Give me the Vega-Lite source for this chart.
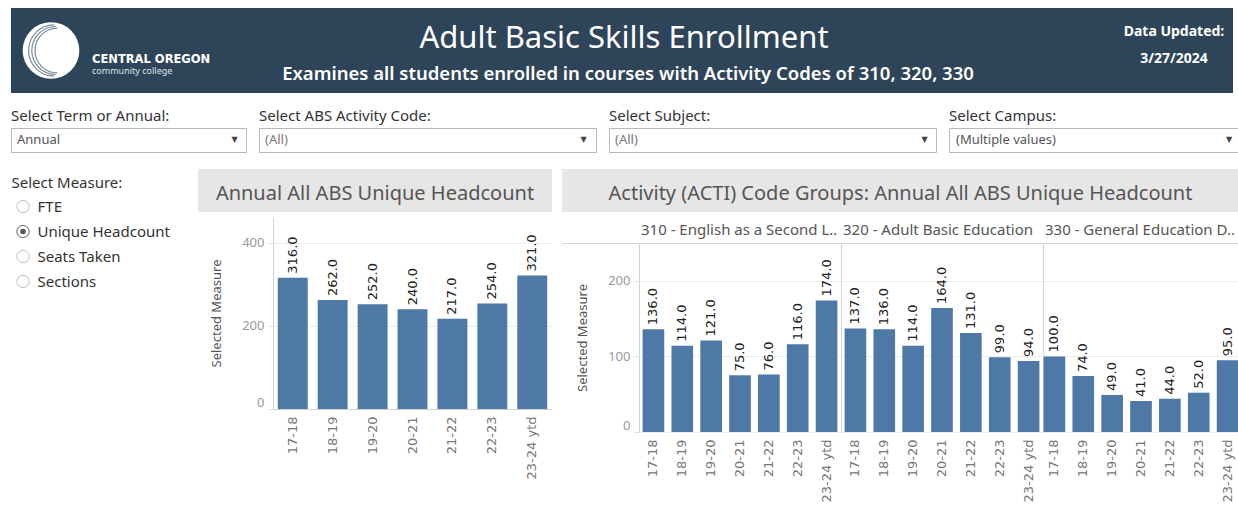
{
  "$schema": "https://vega.github.io/schema/vega-lite/v6.json",
  "padding": {"left": 10, "top": 8, "right": 0, "bottom": 0},
  "background": "white",
  "config": {
    "view": {"stroke": null},
    "title": {"font": "Noto Sans"},
    "axis": {"gridColor": "#ececec"}
  },
  "datasets": {
    "left": [
      {"year": "17-18", "value": 316},
      {"year": "18-19", "value": 262},
      {"year": "19-20", "value": 252},
      {"year": "20-21", "value": 240},
      {"year": "21-22", "value": 217},
      {"year": "22-23", "value": 254},
      {"year": "23-24 ytd", "value": 321}
    ],
    "acti": [
      {"grp": "310", "year": "17-18", "value": 136},
      {"grp": "310", "year": "18-19", "value": 114},
      {"grp": "310", "year": "19-20", "value": 121},
      {"grp": "310", "year": "20-21", "value": 75},
      {"grp": "310", "year": "21-22", "value": 76},
      {"grp": "310", "year": "22-23", "value": 116},
      {"grp": "310", "year": "23-24 ytd", "value": 174},
      {"grp": "320", "year": "17-18", "value": 137},
      {"grp": "320", "year": "18-19", "value": 136},
      {"grp": "320", "year": "19-20", "value": 114},
      {"grp": "320", "year": "20-21", "value": 164},
      {"grp": "320", "year": "21-22", "value": 131},
      {"grp": "320", "year": "22-23", "value": 99},
      {"grp": "320", "year": "23-24 ytd", "value": 94},
      {"grp": "330", "year": "17-18", "value": 100},
      {"grp": "330", "year": "18-19", "value": 74},
      {"grp": "330", "year": "19-20", "value": 49},
      {"grp": "330", "year": "20-21", "value": 41},
      {"grp": "330", "year": "21-22", "value": 44},
      {"grp": "330", "year": "22-23", "value": 52},
      {"grp": "330", "year": "23-24 ytd", "value": 95}
    ],
    "measures": [
      {"measure": "FTE", "selected": false},
      {"measure": "Unique Headcount", "selected": true},
      {"measure": "Seats Taken", "selected": false},
      {"measure": "Sections", "selected": false}
    ]
  },
  "spacing": 16,
  "vconcat": [
    {
      "spacing": 15,
      "vconcat": [
        {
          "bounds": "flush",
          "spacing": 0,
          "hconcat": [
            {
              "width": 80,
              "height": 85,
              "view": {"fill": "#2e4559", "stroke": null},
              "data": {"values": [{"logo": "COCC"}]},
              "layer": [
                {"mark": {"type": "point", "shape": "circle", "size": 3217, "filled": true, "color": "white", "opacity": 1}, "encoding": {}},
                {"mark": {"type": "point", "shape": "M 0.1 -0.8 A 0.8 0.8 0 0 0 0.1 0.8 M 0.15 -0.75 A 0.75 0.75 0 0 0 0.15 0.75 M 0.2 -0.7 A 0.7 0.7 0 0 0 0.2 0.7", "size": 4096, "filled": false, "stroke": "#7d8e9c", "strokeWidth": 1.2, "opacity": 1}, "encoding": {}}
              ]
            },
            {
              "width": 1142,
              "height": 85,
              "view": {"fill": "#2e4559", "stroke": null},
              "layer": [
                {"data": {"values": [{"t": "CENTRAL OREGON"}]}, "mark": {"type": "text", "align": "left", "dx": -570, "dy": 9, "fontSize": 11.5, "fontWeight": "bold", "font": "DejaVu Sans", "color": "white"}, "encoding": {"text": {"field": "t"}}},
                {"data": {"values": [{"t": "community college"}]}, "mark": {"type": "text", "align": "left", "dx": -570, "dy": 20.5, "fontSize": 9, "font": "Noto Sans", "color": "#dde3e8"}, "encoding": {"text": {"field": "t"}}},
                {"data": {"values": [{"t": "Adult Basic Skills Enrollment"}]}, "mark": {"type": "text", "dx": -38, "dy": -12, "fontSize": 31, "font": "Noto Sans", "color": "white"}, "encoding": {"text": {"field": "t"}}},
                {"data": {"values": [{"t": "Examines all students enrolled in courses with Activity Codes of 310, 320, 330"}]}, "mark": {"type": "text", "dx": -34, "dy": 23.5, "fontSize": 18.5, "fontWeight": 600, "font": "Noto Sans", "color": "white"}, "encoding": {"text": {"field": "t"}}},
                {"data": {"values": [{"t": "Data Updated:"}]}, "mark": {"type": "text", "dx": 512, "dy": -18.5, "fontSize": 14, "fontWeight": "bold", "font": "Noto Sans", "color": "white"}, "encoding": {"text": {"field": "t"}}},
                {"data": {"values": [{"t": "3/27/2024"}]}, "mark": {"type": "text", "dx": 512, "dy": 8.5, "fontSize": 14, "fontWeight": "bold", "font": "Noto Sans", "color": "white"}, "encoding": {"text": {"field": "t"}}}
              ]
            }
          ]
        },
        {
          "bounds": "flush",
          "spacing": 13,
          "hconcat": [
            {
              "width": 235, "height": 24,
              "view": {"stroke": "#b8b8b8", "fill": "white"},
              "title": {"text": "Select Term or Annual:", "anchor": "start", "fontSize": 15, "fontWeight": "normal", "color": "#333", "offset": 4},
              "data": {"values": [{"v": "Annual", "arrow": "▼"}]},
              "layer": [
                {"mark": {"type": "text", "align": "left", "dx": -111.5, "fontSize": 13, "font": "Noto Sans", "color": "#555"}, "encoding": {"text": {"field": "v"}}},
                {"mark": {"type": "text", "dx": 106, "fontSize": 8, "font": "DejaVu Sans", "color": "#444"}, "encoding": {"text": {"field": "arrow"}}}
              ]
            },
            {
              "width": 337, "height": 24,
              "view": {"stroke": "#b8b8b8", "fill": "white"},
              "title": {"text": "Select ABS Activity Code:", "anchor": "start", "fontSize": 15, "fontWeight": "normal", "color": "#333", "offset": 4},
              "data": {"values": [{"v": "(All)", "arrow": "▼"}]},
              "layer": [
                {"mark": {"type": "text", "align": "left", "dx": -162.5, "fontSize": 13, "font": "Noto Sans", "color": "#777"}, "encoding": {"text": {"field": "v"}}},
                {"mark": {"type": "text", "dx": 156, "fontSize": 8, "font": "DejaVu Sans", "color": "#444"}, "encoding": {"text": {"field": "arrow"}}}
              ]
            },
            {
              "width": 327, "height": 24,
              "view": {"stroke": "#b8b8b8", "fill": "white"},
              "title": {"text": "Select Subject:", "anchor": "start", "fontSize": 15, "fontWeight": "normal", "color": "#333", "offset": 4},
              "data": {"values": [{"v": "(All)", "arrow": "▼"}]},
              "layer": [
                {"mark": {"type": "text", "align": "left", "dx": -157.5, "fontSize": 13, "font": "Noto Sans", "color": "#777"}, "encoding": {"text": {"field": "v"}}},
                {"mark": {"type": "text", "dx": 152, "fontSize": 8, "font": "DejaVu Sans", "color": "#444"}, "encoding": {"text": {"field": "arrow"}}}
              ]
            },
            {
              "width": 290, "height": 24,
              "view": {"stroke": "#b8b8b8", "fill": "white"},
              "title": {"text": "Select Campus:", "anchor": "start", "fontSize": 15, "fontWeight": "normal", "color": "#333", "offset": 4},
              "data": {"values": [{"v": "(Multiple values)", "arrow": "▼"}]},
              "layer": [
                {"mark": {"type": "text", "align": "left", "dx": -138, "fontSize": 13, "font": "Noto Sans", "color": "#555"}, "encoding": {"text": {"field": "v"}}},
                {"mark": {"type": "text", "dx": 135, "fontSize": 8, "font": "DejaVu Sans", "color": "#444"}, "encoding": {"text": {"field": "arrow"}}}
              ]
            }
          ]
        }
      ]
    },
    {
      "spacing": 0,
      "hconcat": [
        {
          "bounds": "flush",
          "spacing": 0,
          "hconcat": [
            {
              "width": 24,
              "height": 125,
              "data": {"name": "measures"},
              "encoding": {
                "y": {
                  "field": "measure", "type": "nominal",
                  "sort": ["FTE", "Unique Headcount", "Seats Taken", "Sections"],
                  "scale": {"type": "band", "paddingInner": 0, "paddingOuter": 0.5, "align": 1},
                  "axis": {
                    "orient": "right", "title": "Select Measure:", "titleAngle": 0, "titleX": -24, "titleY": 13,
                    "titleAlign": "left", "titleBaseline": "middle", "titleFontSize": 15, "titleFontWeight": "normal",
                    "titleColor": "#333", "titleFont": "Noto Sans", "labelFontSize": 15, "labelColor": "#333",
                    "labelFont": "Noto Sans", "labelPadding": 2, "ticks": false, "domain": false, "grid": false
                  }
                }
              },
              "layer": [
                {"mark": {"type": "point", "shape": "circle", "size": 150, "filled": true, "fill": "white", "stroke": "#bdbdbd", "strokeWidth": 1, "opacity": 1}},
                {"transform": [{"filter": "datum.selected"}], "mark": {"type": "point", "shape": "circle", "size": 150, "filled": false, "stroke": "#777", "strokeWidth": 1, "opacity": 1}},
                {"transform": [{"filter": "datum.selected"}], "mark": {"type": "point", "shape": "circle", "size": 30, "filled": true, "color": "#555", "opacity": 1}}
              ]
            },
            {"width": 163, "height": 1, "data": {"values": []}, "mark": "point"}
          ]
        },
        {
          "spacing": 5,
          "vconcat": [
            {
              "width": 354, "height": 43,
              "view": {"fill": "#e6e6e6", "stroke": null},
              "data": {"values": [{"t": "Annual All ABS Unique Headcount"}]},
              "mark": {"type": "text", "dy": 3, "fontSize": 20, "font": "Noto Sans", "color": "#555"},
              "encoding": {"text": {"field": "t"}}
            },
            {
              "bounds": "flush",
              "spacing": 0,
              "hconcat": [
                {"width": 75, "height": 1, "data": {"values": []}, "mark": "point"},
                {
                  "width": 279, "height": 192,
                  "data": {"name": "left"},
                  "encoding": {
                    "x": {
                      "field": "year", "type": "nominal", "sort": null,
                      "scale": {"paddingInner": 0.25, "paddingOuter": 0.12},
                      "axis": {"title": null, "labelAngle": -90, "labelPadding": 7, "labelFontSize": 13, "labelFont": "DejaVu Sans", "labelColor": "#777", "ticks": false, "domainColor": "#d0d0d0"}
                    },
                    "y": {
                      "field": "value", "type": "quantitative",
                      "scale": {"domain": [0, 462], "nice": false},
                      "axis": {"title": "Selected Measure", "values": [0, 200, 400], "titleFontSize": 13, "titleFont": "Noto Sans", "titleFontWeight": "normal", "titleColor": "#555", "titlePadding": 20, "labelFontSize": 13, "labelFont": "Noto Sans", "labelColor": "#999", "labelPadding": 4, "tickSize": 5, "tickColor": "#e0e0e0", "domainColor": "#d0d0d0", "labelFlush": true, "minExtent": 30, "maxExtent": 30}
                    }
                  },
                  "layer": [
                    {"mark": {"type": "bar", "color": "#4e79a7"}},
                    {"mark": {"type": "text", "angle": 270, "align": "left", "baseline": "middle", "dx": 4, "fontSize": 13, "font": "DejaVu Sans", "color": "#222"}, "encoding": {"text": {"field": "value", "type": "quantitative", "format": ".1f"}}}
                  ]
                }
              ]
            }
          ]
        },
        {"width": 10, "height": 1, "data": {"values": []}, "mark": "point"},
        {
          "spacing": 10,
          "vconcat": [
            {
              "width": 677, "height": 43,
              "view": {"fill": "#e6e6e6", "stroke": null},
              "data": {"values": [{"t": "Activity (ACTI) Code Groups: Annual All ABS Unique Headcount"}]},
              "mark": {"type": "text", "dy": 3, "fontSize": 20, "font": "Noto Sans", "color": "#555"},
              "encoding": {"text": {"field": "t"}}
            },
            {
              "bounds": "flush",
              "spacing": 0,
              "hconcat": [
                {"width": 77, "height": 1, "view": {"fill": "#d4d4d4", "stroke": null}, "data": {"values": []}, "mark": "point"},
                {
                  "width": 202, "height": 189,
                  "view": {"stroke": "#d4d4d4"},
                  "title": {"text": "310 - English as a Second L..", "anchor": "start", "frame": "group", "fontSize": 15, "fontWeight": "normal", "color": "#555", "offset": 5, "dx": 2},
                  "data": {"name": "acti"},
                  "transform": [{"filter": "datum.grp == '310'"}],
                  "encoding": {
                    "x": {
                      "field": "year", "type": "nominal", "sort": null,
                      "scale": {"paddingInner": 0.25, "paddingOuter": 0.125},
                      "axis": {"title": null, "labelAngle": -90, "labelPadding": 7, "labelFontSize": 13, "labelFont": "DejaVu Sans", "labelColor": "#777", "ticks": false, "domain": false}
                    },
                    "y": {
                      "field": "value", "type": "quantitative",
                      "scale": {"domain": [0, 250], "nice": false},
                      "axis": {"title": "Selected Measure", "values": [0, 100, 200], "titleFontSize": 13, "titleFont": "Noto Sans", "titleFontWeight": "normal", "titleColor": "#555", "titlePadding": 20, "labelFontSize": 13, "labelFont": "Noto Sans", "labelColor": "#999", "labelPadding": 4, "tickSize": 5, "tickColor": "#e0e0e0", "domain": false, "labelFlush": true, "minExtent": 30, "maxExtent": 30}
                    }
                  },
                  "layer": [
                    {"mark": {"type": "bar", "color": "#4e79a7"}},
                    {"mark": {"type": "text", "angle": 270, "align": "left", "baseline": "middle", "dx": 4, "fontSize": 13, "font": "DejaVu Sans", "color": "#222"}, "encoding": {"text": {"field": "value", "type": "quantitative", "format": ".1f"}}}
                  ]
                },
                {
                  "width": 202, "height": 189,
                  "view": {"stroke": "#d4d4d4"},
                  "title": {"text": "320 - Adult Basic Education", "anchor": "start", "frame": "group", "fontSize": 15, "fontWeight": "normal", "color": "#555", "offset": 5, "dx": 2},
                  "data": {"name": "acti"},
                  "transform": [{"filter": "datum.grp == '320'"}],
                  "encoding": {
                    "x": {
                      "field": "year", "type": "nominal", "sort": null,
                      "scale": {"paddingInner": 0.25, "paddingOuter": 0.125},
                      "axis": {"title": null, "labelAngle": -90, "labelPadding": 7, "labelFontSize": 13, "labelFont": "DejaVu Sans", "labelColor": "#777", "ticks": false, "domain": false}
                    },
                    "y": {
                      "field": "value", "type": "quantitative",
                      "scale": {"domain": [0, 250], "nice": false},
                      "axis": {"title": null, "values": [0, 100, 200], "labels": false, "ticks": false, "domain": false}
                    }
                  },
                  "layer": [
                    {"mark": {"type": "bar", "color": "#4e79a7"}},
                    {"mark": {"type": "text", "angle": 270, "align": "left", "baseline": "middle", "dx": 4, "fontSize": 13, "font": "DejaVu Sans", "color": "#222"}, "encoding": {"text": {"field": "value", "type": "quantitative", "format": ".1f"}}}
                  ]
                },
                {
                  "width": 196, "height": 189,
                  "view": {"stroke": "#d4d4d4"},
                  "title": {"text": "330 - General Education D..", "anchor": "start", "frame": "group", "fontSize": 15, "fontWeight": "normal", "color": "#555", "offset": 5, "dx": 2},
                  "data": {"name": "acti"},
                  "transform": [{"filter": "datum.grp == '330'"}],
                  "encoding": {
                    "x": {
                      "field": "year", "type": "nominal", "sort": null,
                      "scale": {"paddingInner": 0.25, "paddingOuter": 0.02},
                      "axis": {"title": null, "labelAngle": -90, "labelPadding": 7, "labelFontSize": 13, "labelFont": "DejaVu Sans", "labelColor": "#777", "ticks": false, "domain": false}
                    },
                    "y": {
                      "field": "value", "type": "quantitative",
                      "scale": {"domain": [0, 250], "nice": false},
                      "axis": {"title": null, "values": [0, 100, 200], "labels": false, "ticks": false, "domain": false}
                    }
                  },
                  "layer": [
                    {"mark": {"type": "bar", "color": "#4e79a7"}},
                    {"mark": {"type": "text", "angle": 270, "align": "left", "baseline": "middle", "dx": 4, "fontSize": 13, "font": "DejaVu Sans", "color": "#222"}, "encoding": {"text": {"field": "value", "type": "quantitative", "format": ".1f"}}}
                  ]
                }
              ]
            }
          ]
        }
      ]
    }
  ]
}
